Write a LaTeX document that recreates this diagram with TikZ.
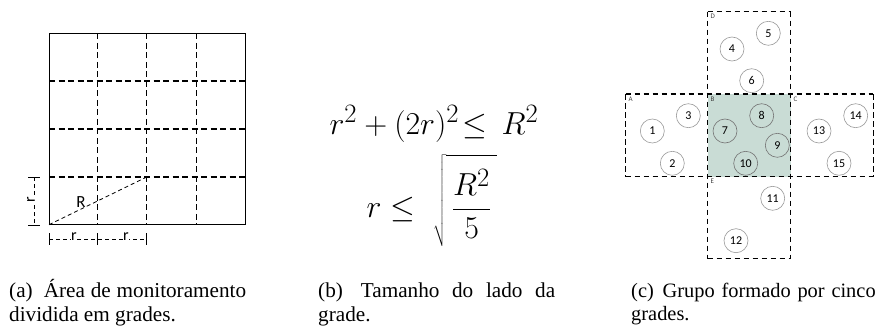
\documentclass[tikz,border=0pt]{standalone}
\usepackage{fontspec}
\usepackage{graphicx}
\setmainfont{Liberation Serif}
\newfontfamily\calib{Carlito}
\begin{document}
\definecolor{shadeB}{RGB}{201,220,213}
\begin{tikzpicture}[x=1pt,y=-1pt,
  gridline/.style={line width=1.3pt,dash pattern=on 6pt off 3.5pt},
  border/.style={line width=1pt},
  dimline/.style={line width=0.8pt,dash pattern=on 4pt off 3pt},
  tick/.style={line width=0.8pt},
  lbl/.style={font=\calib\fontsize{16}{16}\selectfont,inner sep=0pt},
  boxline/.style={line width=1.2pt,dash pattern=on 5.5pt off 3.5pt},
  sensor/.style={circle,draw=black!40,line width=0.6pt,minimum size=24pt,inner sep=0pt,font=\calib\fontsize{12}{12}\selectfont},
  sensorin/.style={sensor,draw=black!55},
  corner/.style={font=\calib\fontsize{7}{7}\selectfont,inner sep=0pt,anchor=north west,text=black!75},
  capt/.style={font=\fontsize{21.2}{23.7}\selectfont,inner sep=0pt,anchor=north west,text width=237pt,align=justify},
  eqstyle/.style={anchor=base,inner sep=0pt,font=\fontsize{24.88}{30}\selectfont}
]
\useasboundingbox (0,0) rectangle (875,329);
% ---------- (a) grid ----------
\foreach \x in {97.7,146.7,196.3} \draw[gridline] (\x,33.3) -- (\x,224.7);
\foreach \y in {81,129,177} \draw[gridline] (49,\y) -- (245.7,\y);
\draw[border] (49,33.3) rectangle (245.7,224.7);
\draw[dimline] (49,224.7) -- (146.7,177);
\node[lbl,font=\calib\fontsize{17}{17}\selectfont] (Rl) at (81,202) {R};
% left dimension
\draw[dimline] (34,177.3) -- (34,225);
\draw[tick] (28,177.3) -- (40,177.3);
\draw[tick] (28,225) -- (40,225);
\node[lbl,rotate=90,fill=white,inner sep=0.3pt] (rv) at (31,200) {r};
% bottom dimension
\draw[dimline] (49,239) -- (146.7,239);
\foreach \x in {49,97.7,146.7} \draw[tick] (\x,233) -- (\x,245);
\node[lbl,fill=white,inner sep=0.3pt] (rh1) at (74,237) {r};
\node[lbl,fill=white,inner sep=0.3pt] (rh2) at (126,237) {r};
% ---------- (b) formula ----------
\node[eqstyle] (eq1) at (434,134.3) {\scalebox{1.28}{$r^2+(2r)^2\!\leq\,R^2$}};
\node[eqstyle] (eq2) at (431.7,217) {\scalebox{1.28}{$\displaystyle r\leq\;\sqrt{\rule[-22pt]{0pt}{66pt}\,\frac{R^2}{5}\,}$}};
% ---------- (c) groups ----------
\fill[shadeB] (707.7,94) rectangle (790.7,176.7);
\draw[boxline] (625.7,94) -- (873.3,94);
\draw[boxline] (625.7,176.7) -- (873.3,176.7);
\draw[boxline] (707.7,11.7) -- (707.7,258.7);
\draw[boxline] (790.7,11.7) -- (790.7,258.7);
\draw[boxline] (707.7,11.7) -- (790.7,11.7);
\draw[boxline] (707.7,258.7) -- (790.7,258.7);
\draw[boxline] (625.7,94) -- (625.7,176.7);
\draw[boxline] (873.3,94) -- (873.3,176.7);
\node[corner] (lA) at (628.5,96.5) {A};
\node[corner] (lB) at (710.5,96.5) {B};
\node[corner] (lC) at (793.5,96.5) {C};
\node[corner] (lD) at (710.5,14) {D};
\node[corner] (lE) at (710.5,179) {E};
\node[sensor] (c1) at (652.3,131) {1};
\node[sensor] (c2) at (672.3,163.3) {2};
\node[sensor] (c3) at (688.3,115.7) {3};
\node[sensor] (c4) at (732,49) {4};
\node[sensor] (c5) at (768.3,33.3) {5};
\node[sensor] (c6) at (751.7,80.7) {6};
\node[sensorin] (c7) at (725,131) {7};
\node[sensorin] (c8) at (761.7,115.7) {8};
\node[sensorin] (c9) at (777.3,145.3) {9};
\node[sensorin] (c10) at (745.7,163.3) {10};
\node[sensor] (c11) at (772.7,198.3) {11};
\node[sensor] (c12) at (736,240.7) {12};
\node[sensor] (c13) at (819,131) {13};
\node[sensor] (c14) at (855.7,115.7) {14};
\node[sensor] (c15) at (839,163.3) {15};
% ---------- captions ----------
\node[capt] (capA) at (9,279.5) {\hyphenpenalty=10000\vphantom{Á}(a)\kern0.25em\ Área de monitoramento\linebreak dividida em grades.};
\node[capt] (capB) at (318,279.5) {\hyphenpenalty=10000\vphantom{Á}(b)\kern0.25em\ Tamanho do lado da\linebreak grade.};
\node[capt,font=\fontsize{20.4}{23.7}\selectfont,text width=262pt,align=left] (capC) at (631,279.5) {\hyphenpenalty=10000\vphantom{Á}(c)\kern0.1em\ Grupo formado por cinco\\grades.};
\end{tikzpicture}
\end{document}
